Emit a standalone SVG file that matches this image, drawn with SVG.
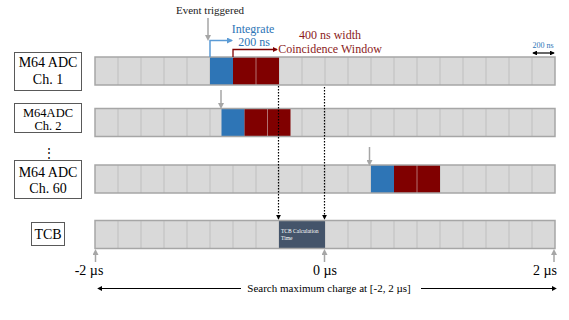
<svg xmlns="http://www.w3.org/2000/svg" width="569" height="320" viewBox="0 0 569 320" font-family="'Liberation Serif', 'Times New Roman', serif">
<defs>
<style>
.lbl{fill:#fff;stroke:#595959;stroke-width:1;}
.bar{fill:#d9d9d9;stroke:none;}
.barO{fill:none;stroke:#a6a6a6;stroke-width:1.5;}
.div{stroke:#bfbfbf;stroke-width:1;}
.blue{fill:#2e75b6;}
.red{fill:#800000;}
.rdiv{stroke:#b27070;stroke-width:1;}
.tcbblk{fill:#44546a;}
.dot{stroke:#000;stroke-width:1.2;stroke-dasharray:1.5,1.5;fill:none;}
.gray{stroke:#a6a6a6;stroke-width:1.5;fill:none;}
</style>
<marker id="mGray" viewBox="0 0 6 6" refX="3" refY="3" markerWidth="4" markerHeight="4" orient="auto"><path d="M0,0L6,3L0,6z" fill="#a6a6a6"/></marker>
<marker id="mBlue" viewBox="0 0 6 6" refX="5" refY="3" markerWidth="4" markerHeight="4" orient="auto"><path d="M0,0L6,3L0,6z" fill="#5b9bd5"/></marker>
<marker id="mRed" viewBox="0 0 6 6" refX="5" refY="3" markerWidth="4" markerHeight="4" orient="auto"><path d="M0,0L6,3L0,6z" fill="#800000"/></marker>
<marker id="mBlk" viewBox="0 0 6 6" refX="5" refY="3" markerWidth="5" markerHeight="4" orient="auto-start-reverse"><path d="M0,0L6,3L0,6z" fill="#000"/></marker>
<g id="cells">
<rect class="bar" x="95" y="0" width="460" height="28"/>
<path class="div" d="M118,0v28M141,0v28M164,0v28M187,0v28M210,0v28M233,0v28M256,0v28M279,0v28M302,0v28M325,0v28M348,0v28M371,0v28M394,0v28M417,0v28M440,0v28M463,0v28M486,0v28M509,0v28M532,0v28"/>
</g>
</defs>

<g id="label-ch1">
<rect class="lbl" x="14.5" y="52.5" width="67" height="38"/>
<text x="48" y="67" font-size="14" text-anchor="middle">M64 ADC</text>
<text x="48" y="84" font-size="14" text-anchor="middle">Ch. 1</text>
</g>
<g id="label-ch2">
<rect class="lbl" x="14.5" y="103.5" width="67" height="29"/>
<text x="48" y="116.5" font-size="12.5" text-anchor="middle">M64ADC</text>
<text x="48" y="130" font-size="12.5" text-anchor="middle">Ch. 2</text>
</g>
<g id="ellipsis">
<text x="49" y="157" font-size="12" text-anchor="middle">⋮</text>
</g>
<g id="label-ch60">
<rect class="lbl" x="14.5" y="160.5" width="67" height="38"/>
<text x="48" y="177" font-size="14" text-anchor="middle">M64 ADC</text>
<text x="48" y="193" font-size="14" text-anchor="middle">Ch. 60</text>
</g>
<g id="label-tcb">
<rect class="lbl" x="31.5" y="222.5" width="33" height="23"/>
<text x="48" y="239" font-size="14" text-anchor="middle">TCB</text>
</g>

<g id="row-ch1">
<use href="#cells" transform="translate(0,57)"/>
<rect class="blue" x="210" y="57" width="23" height="28"/>
<rect class="red" x="233" y="57" width="46" height="28"/>
<line class="rdiv" x1="256" y1="57" x2="256" y2="85"/>
<rect class="barO" x="95" y="57" width="460" height="28"/>
</g>
<g id="row-ch2">
<use href="#cells" transform="translate(0,108.5)"/>
<rect class="blue" x="221.5" y="108.5" width="23" height="28"/>
<rect class="red" x="244.5" y="108.5" width="46" height="28"/>
<line class="rdiv" x1="267.5" y1="108.5" x2="267.5" y2="136.5"/>
<rect class="barO" x="95" y="108.5" width="460" height="28"/>
</g>
<g id="row-ch60">
<use href="#cells" transform="translate(0,165)"/>
<rect class="blue" x="371" y="165" width="23" height="28"/>
<rect class="red" x="394" y="165" width="46" height="28"/>
<line class="rdiv" x1="417" y1="165" x2="417" y2="193"/>
<rect class="barO" x="95" y="165" width="460" height="28"/>
</g>
<g id="row-tcb">
<use href="#cells" transform="translate(0,220.5)"/>
<rect class="tcbblk" x="279" y="220.5" width="46" height="28"/>
<text font-size="5.5" fill="#fff" x="281" y="233">TCB Calculation</text>
<text font-size="5.5" fill="#fff" x="281" y="240">Time</text>
<rect class="barO" x="95" y="220.5" width="460" height="28"/>
</g>

<g id="annotations">
<text x="210" y="14" font-size="11" fill="#222" text-anchor="middle">Event triggered</text>
<text x="253" y="33" font-size="12" fill="#2e75b6" text-anchor="middle">Integrate</text>
<text x="254" y="46" font-size="12" fill="#2e75b6" text-anchor="middle">200 ns</text>
<text x="330" y="39" font-size="12" fill="#8b1a1a" text-anchor="middle">400 ns width</text>
<text x="330" y="53" font-size="12" fill="#8b1a1a" text-anchor="middle">Coincidence Window</text>
<text x="543" y="48" font-size="8" fill="#2e75b6" text-anchor="middle">200 ns</text>
<text x="89" y="275" font-size="14" text-anchor="middle">-2 µs</text>
<text x="325" y="275" font-size="14" text-anchor="middle">0 µs</text>
<text x="545" y="275" font-size="14" text-anchor="middle">2 µs</text>
<text x="329" y="292" font-size="11" text-anchor="middle">Search maximum charge at  [-2, 2 µs]</text>
</g>

<g id="connectors">
<line class="gray" x1="208" y1="18" x2="208" y2="38" marker-end="url(#mGray)"/>
<line class="gray" x1="221" y1="90" x2="221" y2="106" marker-end="url(#mGray)"/>
<line class="gray" x1="369.5" y1="147" x2="369.5" y2="163" marker-end="url(#mGray)"/>
<path d="M210,57V40.5H232" fill="none" stroke="#5b9bd5" stroke-width="1.5" marker-end="url(#mBlue)"/>
<path d="M233,57V49.5H277" fill="none" stroke="#800000" stroke-width="1.3" marker-end="url(#mRed)"/>
<line x1="533" y1="53" x2="554" y2="53" stroke="#000" stroke-width="1.2" marker-start="url(#mBlk)" marker-end="url(#mBlk)"/>
<line class="dot" x1="278.5" y1="86" x2="278.5" y2="219" marker-end="url(#mBlk)"/>
<line class="dot" x1="324.5" y1="87" x2="324.5" y2="219" marker-end="url(#mBlk)"/>
<line class="gray" x1="95.5" y1="262" x2="95.5" y2="252" stroke-width="1" marker-end="url(#mGray)"/>
<line class="gray" x1="324.5" y1="262" x2="324.5" y2="252" stroke-width="1" marker-end="url(#mGray)"/>
<line class="gray" x1="554" y1="262" x2="554" y2="252" stroke-width="1" marker-end="url(#mGray)"/>
<line x1="241" y1="288.5" x2="98" y2="288.5" stroke="#000" stroke-width="1.2" marker-end="url(#mBlk)"/>
<line x1="421" y1="288.5" x2="556" y2="288.5" stroke="#000" stroke-width="1.2" marker-end="url(#mBlk)"/>
</g>
</svg>
